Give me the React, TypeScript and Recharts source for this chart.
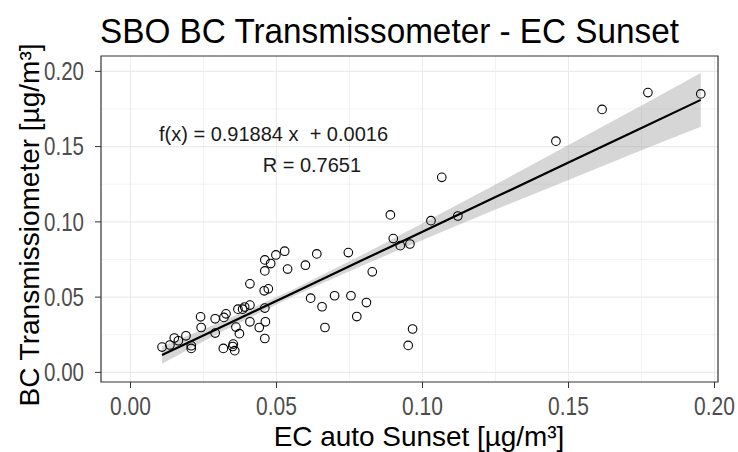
import React from 'react';
import {
  ComposedChart, Scatter, Line, Area,
  XAxis, YAxis, CartesianGrid, ReferenceArea
} from 'recharts';

// EC (Sunset, auto) vs BC (transmissometer), µg/m³
const ecSunset = [
  0.0108, 0.0135, 0.0150, 0.0164, 0.0190, 0.0208, 0.0208, 0.0240, 0.0242, 0.0290,
  0.0290, 0.0318, 0.0320, 0.0327, 0.0352, 0.0357, 0.0350, 0.0361, 0.0373, 0.0368,
  0.0384, 0.0391, 0.0409, 0.0409, 0.0409, 0.0441, 0.0460, 0.0460, 0.0458, 0.0472,
  0.0460, 0.0462, 0.0460, 0.0480, 0.0498, 0.0528, 0.0538, 0.0599, 0.0638, 0.0746,
  0.0617, 0.0656, 0.0666, 0.0699, 0.0755, 0.0775, 0.0808, 0.0828, 0.0890, 0.0900,
  0.0924, 0.0957, 0.1029, 0.1121, 0.0966, 0.0951, 0.1066, 0.1457, 0.1615, 0.1772,
  0.1953
];
const bcTrans = [
  0.0168, 0.0182, 0.0228, 0.0210, 0.0243, 0.0177, 0.0159, 0.0369, 0.0298, 0.0356,
  0.0261, 0.0159, 0.0365, 0.0389, 0.0188, 0.0144, 0.0172, 0.0301, 0.0257, 0.0420,
  0.0420, 0.0434, 0.0588, 0.0447, 0.0336, 0.0298, 0.0747, 0.0674, 0.0542, 0.0555,
  0.0427, 0.0336, 0.0225, 0.0723, 0.0780, 0.0805, 0.0686, 0.0712, 0.0787, 0.0796,
  0.0493, 0.0436, 0.0298, 0.0509, 0.0509, 0.0371, 0.0464, 0.0668, 0.1046, 0.0889,
  0.0842, 0.0853, 0.1008, 0.1039, 0.0288, 0.0179, 0.1296, 0.1536, 0.1747, 0.1859,
  0.1850
];

// linear fit as printed on the plot
const slope = 0.91884;
const intercept = 0.0016;
const rValue = 0.7651;

// half-width of the confidence ribbon at a few x positions
const bandX = [0.0108, 0.03, 0.055, 0.08, 0.1, 0.125, 0.15, 0.175, 0.1953];
const bandHalf = [0.0058, 0.0034, 0.0023, 0.0036, 0.0056, 0.0083, 0.0116, 0.0149, 0.0179];

const xTicks = [0, 0.05, 0.1, 0.15, 0.2];
const yTicks = [0, 0.05, 0.1, 0.15, 0.2];
const xMinor = [0.025, 0.075, 0.125, 0.175];
const yMinor = [0.025, 0.075, 0.125, 0.175];

const points = ecSunset.map((x, i) => ({ x, y: bcTrans[i] }));

const fitRows = bandX.map((x, i) => {
  const fit = slope * x + intercept;
  return { x, fit, band: [fit - bandHalf[i], fit + bandHalf[i]] };
});

const xDomain = [-0.0101, 0.2012];
const yDomain = [-0.0064, 0.2102];

// the plot font is a bit condensed, so squeeze text horizontally
const NarrowText = ({ x, y, size, sx = 0.87, anchor = 'start', fill = '#000', dy, children }: any) => (
  <text
    transform={`translate(${x} ${y}) scale(${sx} 1)`}
    fontSize={size}
    fill={fill}
    textAnchor={anchor}
    dy={dy}
    style={{ whiteSpace: 'pre' }}
  >
    {children}
  </text>
);

const XTick = (p: any) => (
  <NarrowText x={p.x} y={p.y} size={25} sx={0.84} anchor="middle" fill="#4d4d4d" dy="0.71em">
    {Number(p.payload.value).toFixed(2)}
  </NarrowText>
);

const YTick = (p: any) => (
  <NarrowText x={p.x} y={p.y} size={25} sx={0.82} anchor="end" fill="#4d4d4d" dy="0.355em">
    {Number(p.payload.value).toFixed(2)}
  </NarrowText>
);

export default function App() {
  return (
    <div
      style={{
        position: 'absolute', left: 0, top: 0, width: 738, height: 452,
        background: '#fff', fontFamily: "'Liberation Sans', Arial, sans-serif"
      }}
    >
      <ComposedChart
        width={738}
        height={452}
        data={fitRows}
        margin={{ top: 56, right: 20, left: 0, bottom: 0 }}
      >
        {/* minor + major grid, theme_bw style */}
        <CartesianGrid
          stroke="#ebebeb"
          strokeWidth={0.6}
          verticalValues={xMinor}
          horizontalValues={yMinor}
        />
        <CartesianGrid
          stroke="#ebebeb"
          strokeWidth={1.1}
          verticalValues={xTicks}
          horizontalValues={yTicks}
        />
        <XAxis
          type="number"
          dataKey="x"
          domain={xDomain}
          ticks={xTicks}
          allowDataOverflow
          height={70}
          axisLine={false}
          tickLine={{ stroke: '#333' }}
          tickSize={6}
          tickMargin={9}
          tick={XTick}
        />
        <YAxis
          type="number"
          domain={yDomain}
          ticks={yTicks}
          allowDataOverflow
          width={101}
          axisLine={false}
          tickLine={{ stroke: '#333' }}
          tickSize={6}
          tickMargin={11}
          tick={YTick}
        />
        <Area
          type="linear"
          dataKey="band"
          stroke="none"
          fill="#999999"
          fillOpacity={0.4}
          isAnimationActive={false}
        />
        <Line
          type="linear"
          dataKey="fit"
          stroke="#000"
          strokeWidth={2.2}
          dot={false}
          isAnimationActive={false}
        />
        <Scatter
          data={points}
          dataKey="y"
          isAnimationActive={false}
          shape={(p: any) => (
            <circle cx={p.cx} cy={p.cy} r={4.3} fill="none" stroke="#000" strokeWidth={1.1} />
          )}
        />
        <ReferenceArea
          x1={xDomain[0]}
          x2={xDomain[1]}
          y1={yDomain[0]}
          y2={yDomain[1]}
          fill="none"
          stroke="#333"
          strokeWidth={1.2}
          ifOverflow="visible"
        />
      </ComposedChart>

      <svg
        width={738}
        height={452}
        style={{ position: 'absolute', left: 0, top: 0, pointerEvents: 'none' }}
      >
        <NarrowText x={100} y={43} size={36} sx={0.925}>
          SBO BC Transmissometer - EC Sunset
        </NarrowText>
        <NarrowText x={419} y={446} size={28.5} sx={0.98} anchor="middle">
          EC auto Sunset [µg/m³]
        </NarrowText>
        <text
          transform="translate(39,225) rotate(-90)"
          fontSize={28}
          fill="#000"
          textAnchor="middle"
        >
          BC Transmissiometer [µg/m³]
        </text>
        <text x={159} y={140.7} fontSize={20} fill="#1a1a1a" style={{ whiteSpace: 'pre' }}>
          {`f(x) = ${slope} x  + ${intercept}`}
        </text>
        <text x={262.7} y={171.5} fontSize={20} fill="#1a1a1a">
          {`R = ${rValue}`}
        </text>
      </svg>
    </div>
  );
}
